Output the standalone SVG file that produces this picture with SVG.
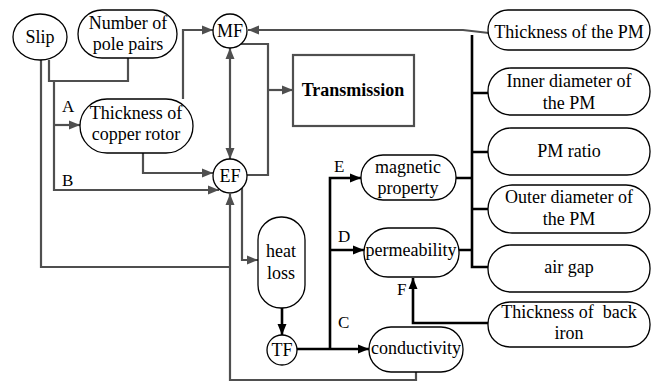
<svg xmlns="http://www.w3.org/2000/svg" width="656" height="381" viewBox="0 0 656 381" font-family="'Liberation Serif', 'DejaVu Serif', 'Times New Roman', serif">
<style>
text{font-family:'Liberation Serif','DejaVu Serif','Times New Roman',serif;font-size:18px;fill:#000;text-anchor:middle}
.lbl{text-anchor:start;font-size:17px}
.node{fill:#fff;stroke:#000;stroke-width:1.3}
.g{fill:none;stroke:#4f4f4f;stroke-width:2.2}
.k{fill:none;stroke:#000;stroke-width:2.6}
.ga{marker-end:url(#ag)}
.ka{marker-end:url(#ak)}
</style>
<defs>
<marker id="ag" markerUnits="userSpaceOnUse" markerWidth="12" markerHeight="10" refX="11" refY="5" orient="auto-start-reverse"><path d="M0,0.5 L11,5 L0,9.5 z" fill="#4f4f4f"/></marker>
<marker id="ak" markerUnits="userSpaceOnUse" markerWidth="12" markerHeight="10" refX="11" refY="5" orient="auto"><path d="M0,0.5 L11,5 L0,9.5 z" fill="#000"/></marker>
</defs>
<rect width="656" height="381" fill="#fff"/>
<g id="connectors">
<path class="g" d="M49,60 V81 H128 V58"/>
<path class="g ga" d="M54,81 V190 H219"/>
<path class="g ga" d="M54,125 H80"/>
<path class="g ga" d="M183,99 V30 H213"/>
<path class="g ga" d="M143,153 V173 H213"/>
<path class="g ga" d="M230,48 V159" marker-start="url(#ag)"/>
<path class="g" d="M240,44 H268 V175 H247"/>
<path class="g ga" d="M268,90 H293"/>
<path class="g ga" d="M489,33 L463,30 H248"/>
<path class="g" d="M41,60 V267 H230"/>
<path class="g ga" d="M416,372 V380 H230 V194"/>
<path class="g ga" d="M242,188 V260 H258"/>
<path class="k ka" d="M282,308 V335"/>
<path class="k ka" d="M297,349 H369"/>
<path class="k ka" d="M330,349 V178 H361"/>
<path class="k ka" d="M330,250 H364"/>
<path class="k" d="M472,35 V267 H488"/>
<path class="k" d="M456,178 H472 M459,250 H472 M472,93 H488 M472,152 H488 M472,209 H488"/>
<path class="k ka" d="M488,323 H413 V278"/>
<text class="lbl" x="62" y="112">A</text>
<text class="lbl" x="62" y="186">B</text>
<text class="lbl" x="334" y="172">E</text>
<text class="lbl" x="338" y="242">D</text>
<text class="lbl" x="338" y="328">C</text>
<text class="lbl" x="397" y="295">F</text>
</g>
<g id="slip"><ellipse class="node" cx="40" cy="37" rx="27" ry="23"/><text x="40" y="43">Slip</text></g>
<g id="pole-pairs"><rect class="node" x="78" y="10" width="99" height="48" rx="24"/><text x="128" y="29">Number of</text><text x="128" y="50">pole pairs</text></g>
<g id="mf"><circle class="node" cx="230" cy="31" r="17"/><text x="230" y="37">MF</text></g>
<g id="copper-rotor"><rect class="node" x="80" y="99" width="113" height="54" rx="27"/><text x="136" y="119">Thickness of</text><text x="136" y="140">copper rotor</text></g>
<g id="ef"><circle class="node" cx="230" cy="176" r="17"/><text x="230" y="182">EF</text></g>
<g id="transmission"><rect x="293" y="55" width="121" height="71" fill="#fff" stroke="#4f4f4f" stroke-width="2.2"/><text x="353" y="96" font-weight="bold">Transmission</text></g>
<g id="heat-loss"><rect class="node" x="258" y="217" width="47" height="91" rx="23"/><text x="281" y="257">heat</text><text x="281" y="279">loss</text></g>
<g id="tf"><circle class="node" cx="282" cy="350" r="15"/><text x="282" y="356">TF</text></g>
<g id="magnetic-property"><rect class="node" x="361" y="155" width="95" height="45" rx="22"/><text x="408" y="173">magnetic</text><text x="408" y="194">property</text></g>
<g id="permeability"><rect class="node" x="364" y="228" width="95" height="49" rx="24"/><text x="411" y="256">permeability</text></g>
<g id="conductivity"><rect class="node" x="369" y="327" width="94" height="45" rx="22"/><text x="416" y="354">conductivity</text></g>
<g id="pm-thickness"><rect class="node" x="488" y="10" width="162" height="40" rx="20"/><text x="569" y="38">Thickness of the PM</text></g>
<g id="pm-inner"><rect class="node" x="488" y="68" width="162" height="47" rx="23"/><text x="569" y="87">Inner diameter of</text><text x="569" y="109">the PM</text></g>
<g id="pm-ratio"><rect class="node" x="488" y="128" width="162" height="47" rx="23"/><text x="569" y="157">PM ratio</text></g>
<g id="pm-outer"><rect class="node" x="488" y="185" width="162" height="48" rx="24"/><text x="569" y="203">Outer diameter of</text><text x="569" y="225">the PM</text></g>
<g id="air-gap"><rect class="node" x="488" y="245" width="162" height="47" rx="23"/><text x="569" y="273">air gap</text></g>
<g id="back-iron"><rect class="node" x="488" y="302" width="162" height="45" rx="22"/><text x="569" y="318">Thickness of&#160; back</text><text x="569" y="339">iron</text></g>
</svg>
